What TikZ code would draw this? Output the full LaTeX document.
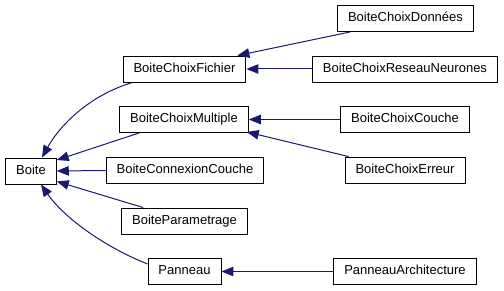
\documentclass[tikz,border=0pt]{standalone}
\usepackage{fontspec}
\setmainfont{Liberation Sans}
\usetikzlibrary{arrows.meta}
\definecolor{midnightblue}{RGB}{25,25,112}

\begin{document}
\begin{tikzpicture}[x=1pt, y=-1pt,
        classbox/.style={draw, line width=0.9pt, minimum height=26pt, inner xsep=10.5pt,
            font=\fontsize{13}{15}\selectfont, text height=9.5pt, text depth=2.8pt},
        derive/.style={midnightblue, line width=1pt, -{Triangle[length=12pt, width=9.5pt]}}]
    \useasboundingbox (0, 0) rectangle (504, 291);

    % base class
    \node[classbox] (Boite) at (31, 171) {Boite};

    % first level
    \node[classbox] (BoiteChoixFichier) at (184.5, 69) {BoiteChoixFichier};
    \node[classbox] (BoiteChoixMultiple) at (184, 119.5) {BoiteChoixMultiple};
    \node[classbox] (BoiteConnexionCouche) at (185, 170.5) {BoiteConnexionCouche};
    \node[classbox] (BoiteParametrage) at (184.5, 221) {BoiteParametrage};
    \node[classbox] (Panneau) at (184.5, 271.5) {Panneau};

    % second level
    \node[classbox] (BoiteChoixDonnees) at (405.5, 18.5) {BoiteChoixDonnées};
    \node[classbox] (BoiteChoixReseauNeurones) at (405, 69) {BoiteChoixReseauNeurones};
    \node[classbox] (BoiteChoixCouche) at (405, 119.5) {BoiteChoixCouche};
    \node[classbox] (BoiteChoixErreur) at (405, 170) {BoiteChoixErreur};
    \node[classbox] (PanneauArchitecture) at (405, 271.5) {PanneauArchitecture};

    % inheritance towards Boite
    \draw[derive] ([xshift=10pt]BoiteChoixFichier.south west)
        .. controls (90, 95) and (60, 125) .. ([xshift=11pt]Boite.north);
    \draw[derive] ([xshift=20pt]BoiteChoixMultiple.south west) -- ([yshift=-2.5pt]Boite.north east);
    \draw[derive] (BoiteConnexionCouche.west) -- (Boite.east);
    \draw[derive] ([xshift=22pt]BoiteParametrage.north west) -- ([yshift=3pt]Boite.south east);
    \draw[derive] ([yshift=7.5pt]Panneau.west)
        .. controls (100, 245) and (62, 215) .. ([xshift=10pt]Boite.south);

    % inheritance towards the first level
    \draw[derive] ([xshift=13pt]BoiteChoixDonnees.south west) -- ([xshift=-9pt]BoiteChoixFichier.north east);
    \draw[derive] (BoiteChoixReseauNeurones.west) -- (BoiteChoixFichier.east);
    \draw[derive] (BoiteChoixCouche.west) -- (BoiteChoixMultiple.east);
    \draw[derive] ([xshift=4pt]BoiteChoixErreur.north west) -- ([xshift=-2pt, yshift=1pt]BoiteChoixMultiple.south east);
    \draw[derive] (PanneauArchitecture.west) -- (Panneau.east);
\end{tikzpicture}
\end{document}
